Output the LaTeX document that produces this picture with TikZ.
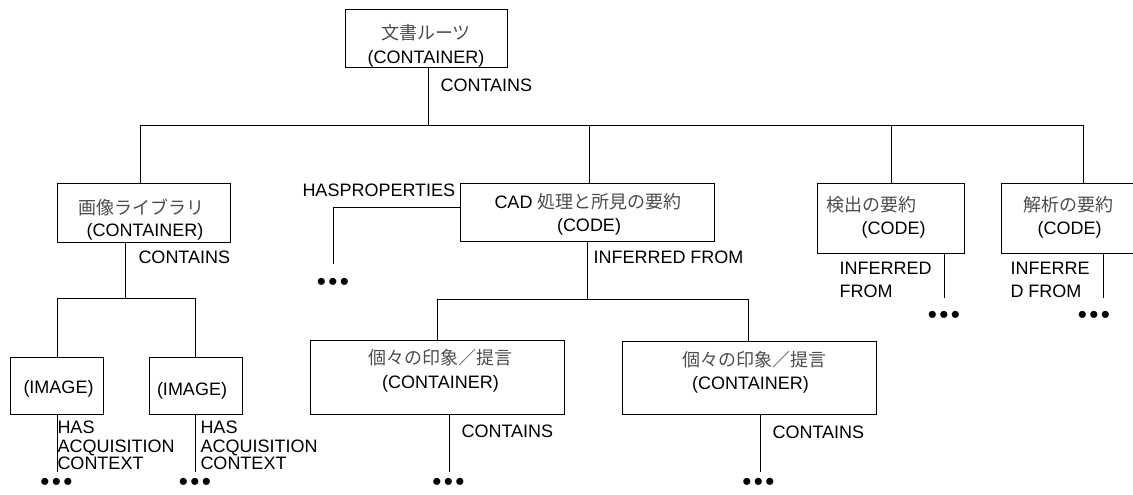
\documentclass[tikz,border=0pt]{standalone}
\usepackage{fontspec}
\setmainfont{Liberation Sans}
\newfontfamily\jp{Noto Sans CJK JP}
\newcommand{\tridots}{•\kern2.4pt•\kern2.4pt•}
\begin{document}
\begin{tikzpicture}[x=1pt,y=-1pt,line width=1pt,
  box/.style={draw,rectangle,inner sep=0pt,outer sep=0pt},
  lbl/.style={font=\fontsize{18}{18}\selectfont,inner sep=0pt,anchor=base},
  lblw/.style={lbl,anchor=base west},
  jlbl/.style={font=\fontsize{18}{18}\selectfont\jp,text=black!70,inner sep=0pt,anchor=base},
  dots/.style={font=\fontsize{26}{26}\selectfont,inner sep=0pt,anchor=base}]
\useasboundingbox (0,0) rectangle (1133,495);

% boxes
\node[box,minimum width=162,minimum height=58] (root) at (426,39) {};
\node[box,minimum width=173,minimum height=59] (lib) at (143.5,212.5) {};
\node[box,minimum width=254,minimum height=58] (cad) at (587,212) {};
\node[box,minimum width=147,minimum height=70] (det) at (890.5,218) {};
\node[box,minimum width=135,minimum height=70] (ana) at (1068.5,218) {};
\node[box,minimum width=93,minimum height=57] (img1) at (56.5,385.5) {};
\node[box,minimum width=93,minimum height=57] (img2) at (195.5,385.5) {};
\node[box,minimum width=254,minimum height=74] (ind1) at (437,377) {};
\node[box,minimum width=254,minimum height=73] (ind2) at (749,377.5) {};

% box texts
\node[jlbl] (t-root1) at (426,39.5) {文書ルーツ};
\node[lbl] (t-root2) at (426,63.5) {(CONTAINER)};
\node[jlbl] (t-lib1) at (141.5,214.5) {画像ライブラリ};
\node[lbl] (t-lib2) at (145,236.5) {(CONTAINER)};
\node[lbl] (t-cad1) at (588,208.5) {CAD {\jp\color{black!70}処理と所見の要約}};
\node[lbl] (t-cad2) at (589,231.5) {(CODE)};
\node[jlbl] (t-det1) at (871,211.5) {検出の要約};
\node[lbl] (t-det2) at (893.5,234.5) {(CODE)};
\node[jlbl] (t-ana1) at (1068.5,211.5) {解析の要約};
\node[lbl] (t-ana2) at (1069.5,234.5) {(CODE)};
\node[lbl] (t-img1) at (58.5,393.5) {(IMAGE)};
\node[lbl] (t-img2) at (192,395.5) {(IMAGE)};
\node[jlbl] (t-ind1a) at (440,364.5) {個々の印象／提言};
\node[lbl] (t-ind1b) at (440.5,388.5) {(CONTAINER)};
\node[jlbl] (t-ind2a) at (754,366.5) {個々の印象／提言};
\node[lbl] (t-ind2b) at (750.5,389.5) {(CONTAINER)};

% junction coordinates
\coordinate (bus) at (428,125);
\coordinate (busL) at (140,125);
\coordinate (busR) at (1083,125);
\coordinate (dCad) at (589,125);
\coordinate (dDet) at (891,125);
\coordinate (libJ) at (125,298);
\coordinate (libL) at (57,298);
\coordinate (libR) at (195,298);
\coordinate (cadJ) at (587,299);
\coordinate (cadL) at (437,299);
\coordinate (cadR) at (748,299);
\coordinate (hp) at (333,207);
\coordinate (hpEnd) at (333,264);
\coordinate (img1E) at (57,472);
\coordinate (img2E) at (195,472);
\coordinate (ind1E) at (449,472);
\coordinate (ind2E) at (760,472);
\coordinate (detE) at (944,298);
\coordinate (anaE) at (1103,298);

% connectors
\draw (root.south -| bus) -- (bus);
\draw (busL) -- (busR);
\draw (busL) -- (busL |- lib.north);
\draw (dCad) -- (dCad |- cad.north);
\draw (dDet) -- (dDet |- det.north);
\draw (busR) -- (busR |- ana.north);
\draw (libJ |- lib.south) -- (libJ);
\draw (libL) -- (libR);
\draw (libL) -- (libL |- img1.north);
\draw (libR) -- (libR |- img2.north);
\draw (img1E |- img1.south) -- (img1E);
\draw (img2E |- img2.south) -- (img2E);
\draw (cad.west |- hp) -- (hp) -- (hpEnd);
\draw (cadJ |- cad.south) -- (cadJ);
\draw (cadL) -- (cadR);
\draw (cadL) -- (cadL |- ind1.north);
\draw (cadR) -- (cadR |- ind2.north);
\draw (ind1E |- ind1.south) -- (ind1E);
\draw (ind2E |- ind2.south) -- (ind2E);
\draw (detE |- det.south) -- (detE);
\draw (anaE |- ana.south) -- (anaE);

% connector labels
\node[lblw] (l-root) at (440,91.5) {CONTAINS};
\node[lblw] (l-lib) at (138,263.5) {CONTAINS};
\node[lblw] (l-hp) at (302,196.5) {HASPROPERTIES};
\node[lblw] (l-cad) at (593,263.5) {INFERRED FROM};
\node[lblw] (l-det1) at (839,274.5) {INFERRED};
\node[lblw] (l-det2) at (839,297.5) {FROM};
\node[lblw] (l-ana1) at (1010,274.5) {INFERRE};
\node[lblw] (l-ana2) at (1010,297.5) {D FROM};
\node[lblw] (l-img1a) at (57,433.5) {HAS};
\node[lblw] (l-img1b) at (57,452.5) {ACQUISITION};
\node[lblw] (l-img1c) at (57,469.5) {CONTEXT};
\node[lblw] (l-img2a) at (200,433.5) {HAS};
\node[lblw] (l-img2b) at (200,452.5) {ACQUISITION};
\node[lblw] (l-img2c) at (200,469.5) {CONTEXT};
\node[lblw] (l-ind1) at (461,437.5) {CONTAINS};
\node[lblw] (l-ind2) at (772,438.5) {CONTAINS};

% ellipses
\node[dots] (e1) at (56.5,490) {\tridots};
\node[dots] (e2) at (195,490) {\tridots};
\node[dots] (e3) at (333,290.5) {\tridots};
\node[dots] (e4) at (448.5,490) {\tridots};
\node[dots] (e5) at (758.5,490) {\tridots};
\node[dots] (e6) at (944,323.5) {\tridots};
\node[dots] (e7) at (1094,323.5) {\tridots};
\end{tikzpicture}
\end{document}
